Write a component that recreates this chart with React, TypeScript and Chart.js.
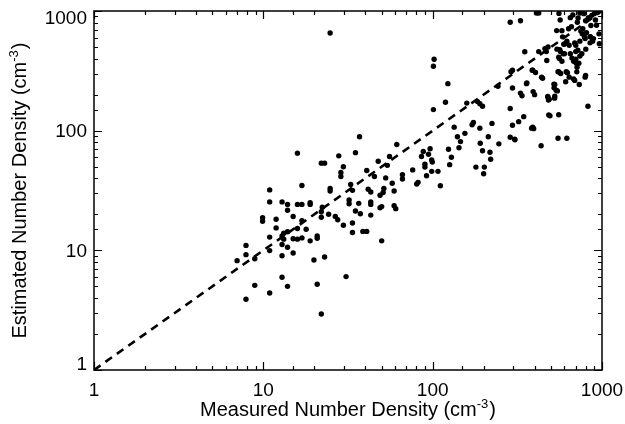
import { useEffect, useRef } from 'react';
import { Chart, registerables } from 'chart.js';

Chart.register(...registerables);

// Measured (x) vs estimated (y) number densities, cm^-3
const MEASURED = [
  7.0, 7.9, 7.9, 7.9, 8.9, 8.9, 9.9, 9.9, 10.9, 10.9, 10.9, 10.9, 10.9, 11.9, 11.9,
  12.9, 12.9, 12.9, 12.9, 12.9, 13.2, 13.2, 13.9, 13.9, 13.9, 13.9, 13.9, 15.0, 15.0, 15.0,
  15.9, 15.9, 15.9, 15.9, 16.9, 16.9, 16.9, 16.9, 17.9, 18.9, 18.9, 18.9, 19.9, 20.8, 20.8,
  20.8, 22.0, 22.0, 22.0, 22.0, 23.0, 23.0, 22.3, 24.3, 24.8, 24.8, 24.8, 26.6, 27.5, 27.9,
  28.7, 28.7, 29.7, 29.7, 30.8, 32.1, 32.1, 32.8, 33.6, 33.6, 33.6, 35.0, 35.0, 36.6, 37.0,
  37.4, 38.7, 40.8, 40.8, 41.6, 43.1, 43.1, 43.1, 43.1, 45.3, 47.7, 48.9, 50.0, 50.0, 48.9,
  51.0, 51.5, 52.8, 54.0, 55.6, 57.7, 59.2, 59.2, 60.5, 61.4, 66.3, 66.3, 76.2, 80.5, 82,
  85.9, 88, 90, 90, 92, 94.5, 96.6, 98.7, 99.5, 98.7, 101, 102, 101, 107.5, 111,
  119, 123, 124, 126, 129, 134, 140, 143, 146, 155, 159, 171, 174, 180, 184,
  190, 190, 191, 197, 197, 200, 202, 213, 218, 220, 224, 246, 243, 287, 290,
  296, 296, 287, 306, 296, 287, 322, 330, 330, 337, 345, 350, 358, 387, 392,
  400, 384, 395, 405, 410, 423, 423, 437, 446, 469, 472, 478, 483, 488, 493,
  521, 526, 526, 542, 536, 545, 550, 555, 555, 550, 555, 560, 563, 568, 557,
  566, 580, 585, 595, 590, 610, 615, 625, 620, 635, 640, 650, 665, 673, 680,
  690, 700, 700, 700, 705, 712, 715, 722, 734, 740, 760, 765, 770, 780, 788,
  795, 795, 802, 810, 826, 850, 855, 860, 880, 890, 900, 915, 928, 940, 960,
  965, 650, 660, 740, 800, 830, 870, 750, 850, 540, 460, 480, 600, 620, 690,
  720, 740, 680, 580, 600, 730, 570, 710, 800, 640, 520, 480, 525, 360, 390,
  440, 485, 390, 305,
];

const ESTIMATED = [
  8.2, 11.0, 9.2, 3.9, 8.5, 5.1, 18.7, 17.5, 32, 25.4, 12.9, 9.95, 4.4, 18.2, 15.4,
  25.4, 13.2, 11.2, 9.0, 5.95, 13.9, 12.4, 24.2, 21.6, 14.3, 10.6, 5.0, 19.2, 12.5, 9.5,
  64.9, 24.2, 15.2, 12.4, 34.8, 24.2, 17.7, 12.7, 15.0, 25.0, 24.2, 12.0, 8.3, 13.2, 12.6,
  5.2, 53.5, 21.0, 18.9, 2.94, 53.5, 8.8, 22.9, 20.0, 654, 32.9, 31.3, 19.2, 18.0, 61.6,
  44.7, 41.4, 50, 16.2, 6.03, 26.4, 24.5, 35.5, 31.7, 16.9, 14.1, 65.5, 21.3, 24.7, 89,
  20.2, 14.4, 14.4, 46.4, 32.4, 30.7, 19.7, 25.4, 24.2, 41.4, 55.5, 22.7, 23.2, 12.0, 28.9,
  30.4, 32.9, 40.3, 51.3, 60.8, 36.4, 31.3, 23.6, 22.3, 76.6, 42.9, 39.4, 47, 35.8, 37,
  60.8, 67, 52.4, 49.6, 42, 63.6, 70.7, 57, 54.6, 45.7, 345, 395, 150, 45.7, 34.6,
  173, 247, 70, 52, 60, 107, 89, 72, 81, 95, 170, 112, 117, 49.6, 175,
  168, 105, 78.5, 160, 68, 43.6, 49.6, 89, 66, 57.7, 115, 77.6, 235, 153, 311,
  320, 227, 88, 84, 111, 806, 119, 830, 206, 196, 131, 456, 247, 320, 212,
  200, 105, 104, 306, 960, 960, 458, 74.8, 274, 458, 386, 193, 180, 183, 133,
  228, 243, 194, 480, 218, 215, 311, 311, 136, 86.5, 412, 400, 476, 458, 955,
  840, 685, 608, 527, 439, 256, 311, 305, 86.5, 711, 518, 439, 404, 925, 270,
  263, 518, 458, 395, 366, 338, 806, 874, 243, 560, 439, 644, 711, 950, 608,
  588, 280, 480, 660, 160, 542, 608, 756, 560, 588, 950, 840, 760, 970, 644,
  533, 880, 740, 960, 830, 880, 920, 680, 610, 686, 485, 500, 530, 560, 540,
  470, 420, 380, 380, 440, 366, 300, 310, 290, 280, 245, 190, 187, 250, 320,
  280, 135, 107, 85,
];

// One-to-one reference line
const LINE_X = [1, 1000];
const LINE_Y = [1, 1000];

const X_TICK_LABELS = [1, 10, 100, 1000];
const Y_TICK_LABELS = [1, 10, 100, 1000];

const X_TITLE = 'Measured Number Density (cm';
const Y_TITLE = 'Estimated Number Density (cm';
const UNIT_SUP = '-3';
const UNIT_CLOSE = ')';

const FONT = '"Liberation Sans", Arial, Helvetica, sans-serif';

function drawTitle(ctx: CanvasRenderingContext2D, main: string, sup: string, close: string) {
  const mainFont = `20px ${FONT}`;
  const supFont = `13px ${FONT}`;
  ctx.font = mainFont;
  const wMain = ctx.measureText(main).width;
  const wClose = ctx.measureText(close).width;
  ctx.font = supFont;
  const wSup = ctx.measureText(sup).width;
  const total = wMain + wSup + wClose + 1;
  let x = -total / 2;
  ctx.textAlign = 'left';
  ctx.textBaseline = 'alphabetic';
  ctx.font = mainFont;
  ctx.fillText(main, x, 0);
  x += wMain;
  ctx.font = supFont;
  ctx.fillText(sup, x, -8);
  x += wSup + 1;
  ctx.font = mainFont;
  ctx.fillText(close, x, 0);
}

const framePlugin = {
  id: 'idlFrame',
  afterDraw(chart: any) {
    const { ctx, chartArea: a, scales } = chart;
    const xs = scales.x;
    const ys = scales.y;
    ctx.save();
    ctx.strokeStyle = '#000';
    ctx.lineWidth = 1.5;
    ctx.strokeRect(a.left, a.top, a.right - a.left, a.bottom - a.top);
    ctx.lineWidth = 1.2;
    ctx.beginPath();
    for (const t of xs.ticks) {
      const v = t.value;
      if (v < 1 || v > 1000) continue;
      const len = X_TICK_LABELS.includes(v) ? 8 : 4;
      const px = Math.round(xs.getPixelForValue(v)) + 0.5;
      ctx.moveTo(px, a.bottom);
      ctx.lineTo(px, a.bottom - len);
      ctx.moveTo(px, a.top);
      ctx.lineTo(px, a.top + len);
    }
    for (const t of ys.ticks) {
      const v = t.value;
      if (v < 1 || v > 1000) continue;
      const len = Y_TICK_LABELS.includes(v) ? 8 : 4;
      const py = Math.round(ys.getPixelForValue(v)) + 0.5;
      ctx.moveTo(a.left, py);
      ctx.lineTo(a.left + len, py);
      ctx.moveTo(a.right, py);
      ctx.lineTo(a.right - len, py);
    }
    ctx.stroke();

    // y tick labels (end labels kept inside the axis range)
    ctx.fillStyle = '#000';
    ctx.font = `19px ${FONT}`;
    ctx.textAlign = 'right';
    ctx.textBaseline = 'middle';
    for (const v of Y_TICK_LABELS) {
      let py = ys.getPixelForValue(v);
      py = Math.min(Math.max(py, a.top + 6.5), a.bottom - 6);
      ctx.fillText(String(v), a.left - 7, py + 1);
    }

    // axis titles
    ctx.save();
    ctx.translate((a.left + a.right) / 2, 416);
    drawTitle(ctx, X_TITLE, UNIT_SUP, UNIT_CLOSE);
    ctx.restore();

    ctx.save();
    ctx.translate(26, (a.top + a.bottom) / 2);
    ctx.rotate(-Math.PI / 2);
    drawTitle(ctx, Y_TITLE, UNIT_SUP, UNIT_CLOSE);
    ctx.restore();

    ctx.restore();
  },
};

export default function App() {
  const ref = useRef<HTMLCanvasElement | null>(null);

  useEffect(() => {
    if (!ref.current) return;
    const points = MEASURED.map((x, i) => ({ x, y: ESTIMATED[i] }));
    const line = LINE_X.map((x, i) => ({ x, y: LINE_Y[i] }));
    const chart = new Chart(ref.current, {
      type: 'scatter',
      data: {
        datasets: [
          {
            type: 'line',
            data: line,
            borderColor: '#000',
            borderWidth: 2.6,
            borderDash: [8, 6],
            pointRadius: 0,
            fill: false,
            showLine: true,
          } as any,
          {
            type: 'scatter',
            data: points,
            pointRadius: 2.7,
            pointHoverRadius: 2.7,
            backgroundColor: '#000',
            borderWidth: 0,
          } as any,
        ],
      },
      options: {
        animation: false,
        responsive: false,
        devicePixelRatio: 1,
        events: [],
        layout: { padding: { left: 0, right: 23, top: 11, bottom: 0 } },
        plugins: {
          legend: { display: false },
          tooltip: { enabled: false },
        },
        scales: {
          x: {
            type: 'logarithmic',
            min: 1,
            max: 1000,
            grid: { display: false, drawTicks: false },
            border: { display: false },
            ticks: {
              autoSkip: false,
              maxRotation: 0,
              minRotation: 0,
              padding: 9,
              color: '#000',
              font: { family: FONT, size: 19 },
              callback: (v: any) => (X_TICK_LABELS.includes(Number(v)) ? String(v) : ''),
            },
            afterFit: (s: any) => {
              s.height = 54;
              s.paddingLeft = 0;
              s.paddingRight = 0;
            },
          },
          y: {
            type: 'logarithmic',
            min: 1,
            max: 1000,
            grid: { display: false, drawTicks: false },
            border: { display: false },
            ticks: { display: false },
            afterFit: (s: any) => {
              s.width = 94;
              s.paddingTop = 0;
              s.paddingBottom = 0;
            },
          },
        },
      },
      plugins: [framePlugin],
    });
    return () => chart.destroy();
  }, []);

  return (
    <div style={{ position: 'fixed', left: 0, top: 0, width: 625, height: 424, background: '#fff' }}>
      <canvas ref={ref} width={625} height={424} style={{ display: 'block' }} />
    </div>
  );
}
